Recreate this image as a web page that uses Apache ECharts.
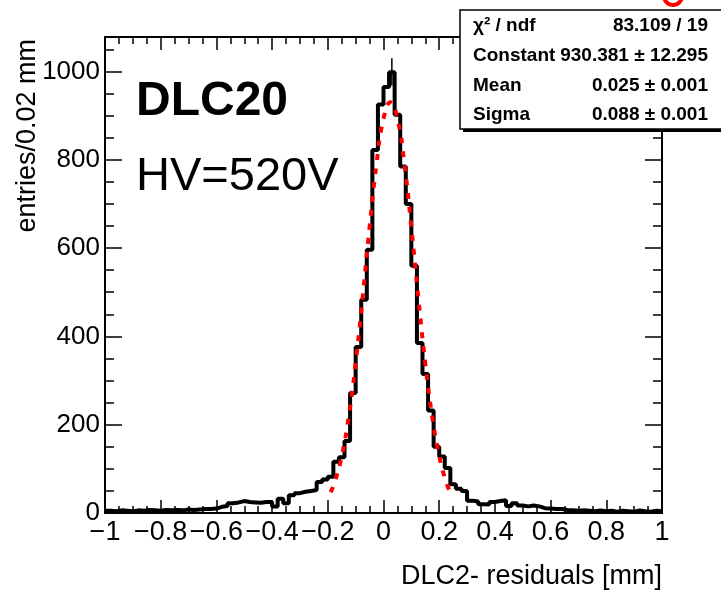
<!DOCTYPE html>
<html><head><meta charset="utf-8">
<script src="https://cdn.jsdelivr.net/npm/echarts@6/dist/echarts.min.js"></script>
<style>html,body{margin:0;padding:0;background:#fff}#c{width:721px;height:593px}</style>
</head><body><div id="c"></div>
<script>
// ---- data ----
const binLow = -1.0;
const binWidth = 0.02;
const counts = [
  5, 4, 6, 5, 4, 6, 5, 7, 6, 5,
  7, 6, 7, 6, 8, 7, 8, 9, 9, 10,
  14, 16, 22, 24, 27, 25, 24, 23, 25, 25,
  15, 32, 22, 40, 45, 48, 50, 52, 70, 76,
  82, 116, 126, 163, 272, 376, 483, 596, 822, 925,
  965, 998, 902, 785, 700, 560, 385, 315, 232, 150,
  128, 102, 65, 55, 50, 28, 26, 20, 19, 25,
  27, 29, 16, 22, 17, 15, 17, 15, 11, 10,
  9, 9, 7, 6, 5, 6, 5, 4, 6, 4,
  5, 3, 5, 4, 3, 6, 4, 3, 5, 4
];
const fitX = [-0.19, -0.175, -0.15, -0.125, -0.10, -0.075, -0.05, -0.025, 0.0, 0.025, 0.05, 0.075, 0.10, 0.125, 0.15, 0.175, 0.20, 0.225, 0.24];
const fitY = [47, 70, 129, 218, 339, 488, 647, 791, 893, 930, 893, 791, 647, 488, 339, 218, 129, 70, 47];
const peakErrX = 0.03;
const peakErrLow = 968;
const peakErrHigh = 1030;
const xMin = -1, xMax = 1, xStep = 0.2;
const yMin = 0, yMax = 1078, yStep = 200, yMinorStep = 50;
const statsNames = ['χ² / ndf', 'Constant', 'Mean', 'Sigma'];
const statsValues = ['83.109 / 19', '930.381 ± 12.295', '0.025 ± 0.001', '0.088 ± 0.001'];
const xTitle = 'DLC2- residuals [mm]';
const yTitle = 'entries/0.02 mm';
const label1 = 'DLC20';
const label2 = 'HV=520V';

// ---- build ----
const FONT = '"Liberation Sans", Arial, Helvetica, sans-serif';
const histData = counts.map((c, k) => [binLow + k * binWidth, c]);
histData.push([binLow + counts.length * binWidth, counts[counts.length - 1]]);
const fitData = fitX.map((x, i) => [x, fitY[i]]);

const black = '#000';
function xAxisDef(pos, showLabel) {
  return {
    type: 'value', min: xMin, max: xMax, interval: xStep, position: pos,
    axisLine: { show: true, onZero: false, lineStyle: { color: black, width: 2 } },
    axisTick: { show: true, inside: true, length: 13, lineStyle: { color: black, width: 1.5 } },
    minorTick: { show: true, splitNumber: 4, length: 7, lineStyle: { color: black, width: 1.5 } },
    splitLine: { show: false }, minorSplitLine: { show: false },
    axisLabel: {
      show: showLabel, fontSize: 27, color: black, fontFamily: FONT, margin: 6,
      formatter: v => String(Math.round(v * 10) / 10).replace('-', '\u2212')
    }
  };
}
function yAxisDef(pos, step, len, showLabel, showLine) {
  return {
    type: 'value', min: yMin, max: yMax, interval: step, position: pos,
    axisLine: { show: showLine, onZero: false, lineStyle: { color: black, width: 2 } },
    axisTick: { show: true, inside: true, length: len, lineStyle: { color: black, width: 1.5 } },
    splitLine: { show: false },
    axisLabel: {
      show: showLabel, fontSize: 26, color: black, fontFamily: FONT, margin: 5, padding: [6, 0, 0, 0],
      formatter: v => (v % yStep === 0 ? String(v) : '')
    }
  };
}

const statsGraphics = [];
const boxX = 460, boxY = 10, boxW = 280, boxH = 119;
statsGraphics.push({ type: 'rect', shape: { x: boxX + 3, y: boxY + 3, width: boxW, height: boxH }, style: { fill: black }, z: 100 });
statsGraphics.push({ type: 'rect', shape: { x: boxX, y: boxY, width: boxW, height: boxH }, style: { fill: '#fff', stroke: black, lineWidth: 1.5 }, z: 101 });
const rowY = [26, 56, 85.5, 114.5];
statsNames.forEach((n, i) => {
  statsGraphics.push({ type: 'text', x: 473, y: rowY[i], z: 102,
    style: { text: n, font: 'bold 19px ' + FONT, fill: black, align: 'left', verticalAlign: 'middle', textAlign: 'left', textVerticalAlign: 'middle' } });
  statsGraphics.push({ type: 'text', x: 708, y: rowY[i], z: 102,
    style: { text: statsValues[i], font: 'bold 19px ' + FONT, fill: black, align: 'right', verticalAlign: 'middle', textAlign: 'right', textVerticalAlign: 'middle' } });
});

const option = {
  animation: false,
  backgroundColor: '#fff',
  grid: { left: 105, right: 59, top: 37, bottom: 80, containLabel: false, outerBoundsMode: 'none' },
  xAxis: [xAxisDef('bottom', true), xAxisDef('top', false)],
  yAxis: [
    yAxisDef('left', yStep, 17, true, true),
    yAxisDef('left', yMinorStep, 9, false, false),
    yAxisDef('right', yStep, 17, false, true),
    yAxisDef('right', yMinorStep, 9, false, false)
  ],
  series: [
    { type: 'line', step: 'end', data: histData, symbol: 'none', xAxisIndex: 0, yAxisIndex: 0,
      lineStyle: { color: black, width: 4 }, z: 2 },
    { type: 'line', data: [[peakErrX, peakErrLow], [peakErrX, peakErrHigh]], symbol: 'none', xAxisIndex: 0, yAxisIndex: 0,
      lineStyle: { color: black, width: 1.5 }, z: 2 },
    { type: 'line', data: fitData, smooth: true, symbol: 'none', xAxisIndex: 0, yAxisIndex: 0,
      lineStyle: { color: '#ff0000', width: 4, type: [6, 8] }, z: 3 }
  ],
  graphic: [
    { type: 'text', x: 136, y: 101.5, style: { text: label1, font: 'bold 48px ' + FONT, fill: black, align: 'left', verticalAlign: 'middle', textAlign: 'left', textVerticalAlign: 'middle' } },
    { type: 'text', x: 136, y: 177, style: { text: label2, font: '47px ' + FONT, fill: black, align: 'left', verticalAlign: 'middle', textAlign: 'left', textVerticalAlign: 'middle' } },
    { type: 'text', x: 662, y: 577, style: { text: xTitle, font: '27px ' + FONT, fill: black, align: 'right', verticalAlign: 'middle', textAlign: 'right', textVerticalAlign: 'middle' } },
    { type: 'text', x: 28, y: 39, rotation: Math.PI / 2, style: { text: yTitle, font: '27px ' + FONT, fill: black, align: 'right', verticalAlign: 'middle', textAlign: 'right', textVerticalAlign: 'middle' } },
    { type: 'arc', shape: { cx: 673, cy: -4, r: 9, startAngle: 0, endAngle: Math.PI }, style: { stroke: '#ff0000', lineWidth: 4, fill: null }, z: 99 },
    ...statsGraphics
  ]
};
const chart = echarts.init(document.getElementById('c'), null, { renderer: 'canvas' });
chart.setOption(option);
</script>
</body></html>
